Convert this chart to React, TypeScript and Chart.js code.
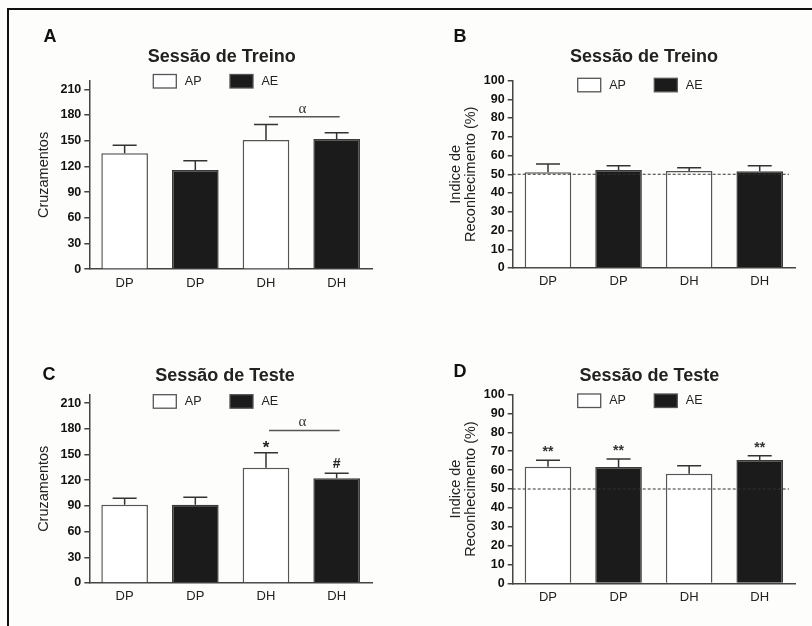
import React, { useEffect, useRef } from "react";
import { Chart, registerables } from "chart.js";
Chart.register(...registerables);

// ---------- data ----------
const categories = ["DP", "DP", "DH", "DH"];
const groupNames = ["AP", "AE"];
const barGroup = [0, 1, 0, 1];

const treinoCruz = [135.2, 115.8, 150.8, 151.9];
const treinoCruzSem = [9.4, 10.8, 18.2, 7.4];
const treinoIndice = [51.1, 52.3, 51.8, 51.6];
const treinoIndiceSem = [4.4, 2.3, 1.7, 3.0];
const testeCruz = [91.4, 91.4, 134.5, 122.2];
const testeCruzSem = [7.6, 8.6, 17.5, 5.8];
const testeIndice = [61.8, 61.6, 58.1, 65.3];
const testeIndiceSem = [3.4, 4.3, 4.2, 2.3];

const cruzTicks = [0, 30, 60, 90, 120, 150, 180, 210];
const indiceTicks = [0, 10, 20, 30, 40, 50, 60, 70, 80, 90, 100];
const cruzMax = 220;
const indiceMax = 100;

const treinoCruzMarks = ["", "", "", ""];
const treinoIndiceMarks = ["", "", "", ""];
const testeCruzMarks = ["", "", "*", "#"];
const testeIndiceMarks = ["**", "**", "", "**"];
const alphaLevel = 178;
const chanceLevel = 50;

const FONT = "'Liberation Sans', Arial, Helvetica, sans-serif";
const WHITE = "#ffffff";
const BLACK = "#1b1b1b";
const AXIS = "#444444";

type Geom = {
  padLeft: number;
  yWidth: number;
  top: number;
  bottom: number;
  padRight: number;
  titleX: number;
  titleY: number;
  letterX: number;
  letterY: number;
  legendX: number[];
  legendY: number;
  titleLine: number;
};

type PanelProps = {
  left: number;
  top: number;
  letter: string;
  title: string;
  values: number[];
  sem: number[];
  ticks: number[];
  yMax: number;
  yTitle: string | string[];
  marks: string[];
  alpha?: number;
  chance?: number;
  g: Geom;
};

const W = 406;
const H = 313;

function Panel(p: PanelProps) {
  const ref = useRef<HTMLCanvasElement | null>(null);
  useEffect(() => {
    if (!ref.current) return;
    const g = p.g;
    const deco = {
      id: "deco",
      afterDatasetsDraw(chart: any) {
        const ctx = chart.ctx;
        const ys = chart.scales.y;
        const meta = chart.getDatasetMeta(0);
        const area = chart.chartArea;
        ctx.save();
        // error bars (upper SEM only)
        ctx.strokeStyle = "#333";
        ctx.lineWidth = 1.5;
        meta.data.forEach((el: any, i: number) => {
          const yt = ys.getPixelForValue(p.values[i] + p.sem[i]);
          ctx.beginPath();
          ctx.moveTo(el.x, el.y);
          ctx.lineTo(el.x, yt);
          ctx.moveTo(el.x - 12, yt);
          ctx.lineTo(el.x + 12, yt);
          ctx.stroke();
        });
        // chance line
        if (p.chance !== undefined) {
          const yc = ys.getPixelForValue(p.chance);
          ctx.strokeStyle = "#333";
          ctx.lineWidth = 1;
          ctx.setLineDash([3, 2]);
          ctx.beginPath();
          ctx.moveTo(area.left, yc);
          ctx.lineTo(area.right - 6, yc);
          ctx.stroke();
          ctx.setLineDash([]);
        }
        // significance marks
        ctx.fillStyle = "#222";
        ctx.textAlign = "center";
        ctx.textBaseline = "alphabetic";
        meta.data.forEach((el: any, i: number) => {
          const m = p.marks[i];
          if (!m) return;
          const yt = ys.getPixelForValue(p.values[i] + p.sem[i]);
          if (m === "#") {
            const fs = 14;
            ctx.font = `bold ${fs}px ${FONT}`;
            ctx.fillText(m, el.x, yt - 10.6 + 0.36 * fs);
          } else if (m === "*") {
            const fs = 17;
            ctx.font = `bold ${fs}px ${FONT}`;
            ctx.fillText(m, el.x, yt - 9.4 + 0.58 * fs);
          } else {
            const fs = 14;
            ctx.font = `bold ${fs}px ${FONT}`;
            ctx.fillStyle = "#333";
            ctx.fillText(m, el.x, yt - 12 + 0.58 * fs);
          }
        });
        // alpha bracket
        if (p.alpha !== undefined) {
          const ya = ys.getPixelForValue(p.alpha);
          const x1 = meta.data[2].x + 3;
          const x2 = meta.data[3].x + 3;
          ctx.strokeStyle = "#555";
          ctx.lineWidth = 1.5;
          ctx.beginPath();
          ctx.moveTo(x1, ya);
          ctx.lineTo(x2, ya);
          ctx.stroke();
          ctx.fillStyle = "#333";
          ctx.font = `15px 'Liberation Serif', 'Times New Roman', serif`;
          ctx.textBaseline = "alphabetic";
          ctx.fillText("\u03b1", (x1 + x2) / 2 - 2, ya - 4);
        }
        ctx.restore();
      },
      afterDraw(chart: any) {
        const ctx = chart.ctx;
        ctx.save();
        // panel letter
        ctx.fillStyle = "#111";
        ctx.font = `bold 18px ${FONT}`;
        ctx.textAlign = "center";
        ctx.textBaseline = "middle";
        ctx.fillText(p.letter, g.letterX, g.letterY);
        // title
        ctx.fillStyle = "#222";
        ctx.font = `bold 18px ${FONT}`;
        ctx.fillText(p.title, g.titleX, g.titleY);
        // legend
        groupNames.forEach((name, k) => {
          const bx = g.legendX[k];
          const by = g.legendY;
          ctx.fillStyle = k === 0 ? WHITE : BLACK;
          ctx.fillRect(bx, by, 23, 13.5);
          ctx.strokeStyle = "#555";
          ctx.lineWidth = 1.3;
          ctx.strokeRect(bx, by, 23, 13.5);
          ctx.fillStyle = "#222";
          ctx.font = `12.5px ${FONT}`;
          ctx.textAlign = "left";
          ctx.textBaseline = "middle";
          ctx.fillText(name, bx + 31.5, by + 7);
        });
        ctx.restore();
      },
    };

    const chart = new Chart(ref.current, {
      type: "bar",
      data: {
        labels: categories,
        datasets: [
          {
            data: p.values,
            backgroundColor: barGroup.map((b) => (b === 0 ? WHITE : BLACK)),
            borderColor: barGroup.map((b) => (b === 0 ? "#555" : "#3a3a3a")),
            borderWidth: 1.5,
            categoryPercentage: 1,
            barPercentage: 0.66,
          },
        ],
      },
      options: {
        responsive: false,
        animation: false,
        devicePixelRatio: 1,
        layout: {
          padding: {
            left: g.padLeft,
            top: g.top,
            right: g.padRight,
            bottom: H - g.bottom - 30,
          },
        },
        plugins: {
          legend: { display: false },
          title: { display: false },
          tooltip: { enabled: false },
        },
        scales: {
          x: {
            type: "category",
            offset: true,
            grid: { display: false, drawTicks: false },
            border: { display: true, color: AXIS, width: 1.5 },
            ticks: {
              color: "#222",
              font: { family: FONT, size: 13 },
              padding: 6,
            },
            afterFit(scale: any) {
              scale.height = 30;
            },
          },
          y: {
            min: 0,
            max: p.yMax,
            grid: {
              display: true,
              drawOnChartArea: false,
              drawTicks: true,
              tickLength: 5,
              color: AXIS,
              lineWidth: 1.5,
            },
            border: { display: true, color: AXIS, width: 1.5 },
            ticks: {
              color: "#111",
              font: { family: FONT, size: 12.5, weight: "bold" },
              padding: 3,
            },
            afterBuildTicks(scale: any) {
              scale.ticks = p.ticks.map((v) => ({ value: v }));
            },
            afterFit(scale: any) {
              scale.width = g.yWidth;
            },
            title: {
              display: true,
              text: p.yTitle,
              color: "#222",
              font: { family: FONT, size: 14.5, lineHeight: g.titleLine / 14.5 },
              padding: { top: 4, bottom: 4 },
            },
          },
        },
      },
      plugins: [deco],
    } as any);
    return () => chart.destroy();
  }, []);
  return (
    <canvas
      ref={ref}
      width={W}
      height={H}
      style={{ position: "absolute", left: p.left, top: p.top, width: W, height: H }}
    />
  );
}

const geomA: Geom = {
  padLeft: 31.5, yWidth: 57.8, top: 80.7, bottom: 269.2, padRight: 34,
  titleX: 221.7, titleY: 57.3, letterX: 50, letterY: 37.5,
  legendX: [153.3, 230], legendY: 74.5, titleLine: 17,
};
const geomB: Geom = {
  padLeft: 38.5, yWidth: 68.2, top: 80.5, bottom: 268, padRight: 17,
  titleX: 238, titleY: 57, letterX: 54, letterY: 36.7,
  legendX: [171.7, 248.3], legendY: 78.3, titleLine: 15,
};
const geomC: Geom = {
  padLeft: 31.5, yWidth: 57.8, top: 81.5, bottom: 270, padRight: 34,
  titleX: 225, titleY: 63.3, letterX: 49, letterY: 62.5,
  legendX: [153.3, 230], legendY: 81.7, titleLine: 17,
};
const geomD: Geom = {
  padLeft: 38.5, yWidth: 68.2, top: 81.5, bottom: 270.5, padRight: 17,
  titleX: 243.3, titleY: 63.3, letterX: 54, letterY: 59,
  legendX: [171.7, 248.3], legendY: 81, titleLine: 15,
};

export default function App() {
  const indiceTitle = ["Indice de", "Reconhecimento (%)"];
  return (
    <div
      style={{
        position: "fixed",
        left: 0,
        top: 0,
        width: 812,
        height: 626,
        background: "#fdfdfb",
        overflow: "hidden",
      }}
    >
      <div
        style={{
          position: "absolute",
          left: 7,
          top: 8,
          width: 900,
          height: 700,
          borderTop: "2px solid #111",
          borderLeft: "2px solid #111",
        }}
      />
      <Panel left={0} top={0} letter="A" title="Sessão de Treino" values={treinoCruz} sem={treinoCruzSem}
        ticks={cruzTicks} yMax={cruzMax} yTitle="Cruzamentos" marks={treinoCruzMarks} alpha={alphaLevel} g={geomA} />
      <Panel left={406} top={0} letter="B" title="Sessão de Treino" values={treinoIndice} sem={treinoIndiceSem}
        ticks={indiceTicks} yMax={indiceMax} yTitle={indiceTitle} marks={treinoIndiceMarks} chance={chanceLevel} g={geomB} />
      <Panel left={0} top={313} letter="C" title="Sessão de Teste" values={testeCruz} sem={testeCruzSem}
        ticks={cruzTicks} yMax={cruzMax} yTitle="Cruzamentos" marks={testeCruzMarks} alpha={alphaLevel} g={geomC} />
      <Panel left={406} top={313} letter="D" title="Sessão de Teste" values={testeIndice} sem={testeIndiceSem}
        ticks={indiceTicks} yMax={indiceMax} yTitle={indiceTitle} marks={testeIndiceMarks} chance={chanceLevel} g={geomD} />
    </div>
  );
}
